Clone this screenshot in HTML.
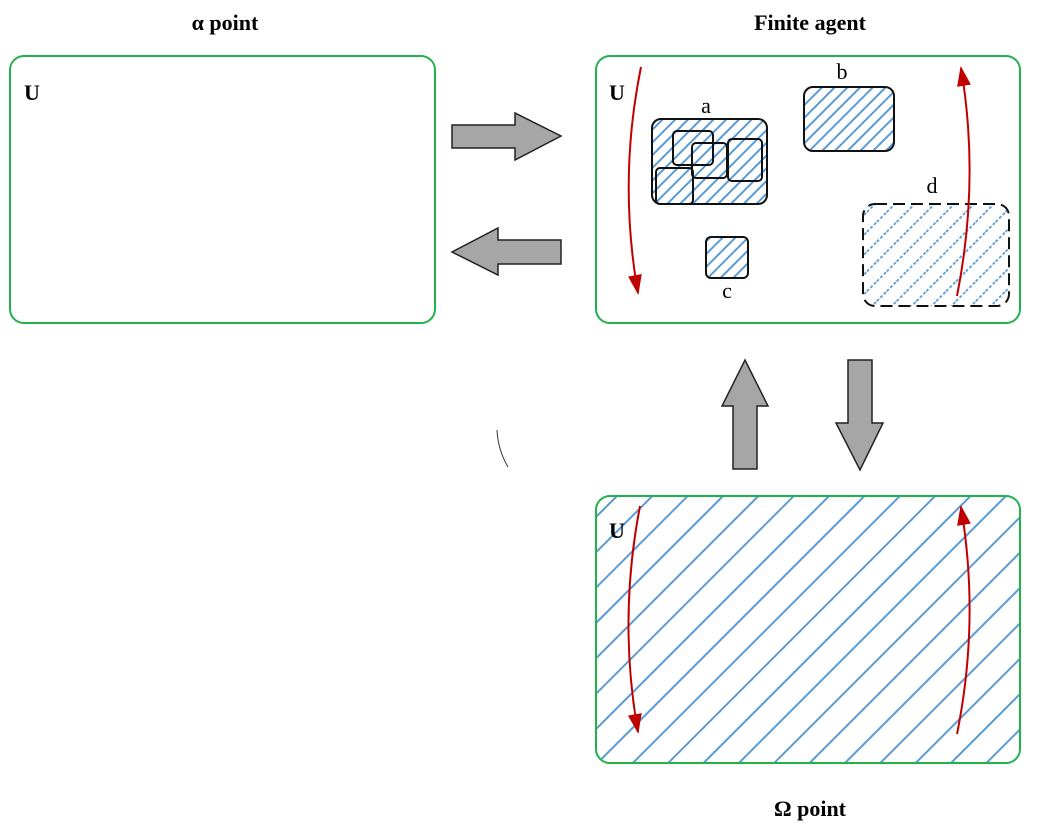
<!DOCTYPE html>
<html><head><meta charset="utf-8"><style>
html,body{margin:0;padding:0;background:#fff;}
body{width:1043px;height:826px;overflow:hidden;}
text{font-family:"Liberation Serif","DejaVu Serif",serif;}
</style></head><body>
<svg width="1043" height="826" viewBox="0 0 1043 826" xmlns="http://www.w3.org/2000/svg">
<defs>
<pattern id="h1" patternUnits="userSpaceOnUse" width="25" height="25" patternTransform="rotate(45)">
<line x1="12" y1="0" x2="12" y2="25" stroke="#5b9bd5" stroke-width="2"/></pattern>
<pattern id="h2" patternUnits="userSpaceOnUse" width="9" height="9" patternTransform="rotate(45)">
<line x1="4" y1="0" x2="4" y2="9" stroke="#5b9bd5" stroke-width="2"/></pattern>
<pattern id="h3" patternUnits="userSpaceOnUse" width="14" height="14" patternTransform="rotate(45)">
<line x1="7" y1="0" x2="7" y2="14" stroke="#5b9bd5" stroke-width="1.8" stroke-dasharray="3,2"/></pattern>
<marker id="ar" markerWidth="20" markerHeight="14" refX="18" refY="7" orient="auto" markerUnits="userSpaceOnUse" viewBox="0 0 20 14">
<path d="M0,0 L20,7 L0,14 Z" fill="#c00000"/></marker>
</defs>
<text x="225" y="30" font-size="22" font-weight="bold" text-anchor="middle">α  point</text>
<text x="810" y="30" font-size="22" font-weight="bold" text-anchor="middle">Finite agent</text>
<text x="810" y="816" font-size="22" font-weight="bold" text-anchor="middle">Ω  point</text>

<rect x="10" y="56" width="425" height="267" rx="14" fill="#fff" stroke="#22b24c" stroke-width="2"/>
<text x="24" y="100" font-size="22" font-weight="bold">U</text>

<rect x="596" y="56" width="424" height="267" rx="14" fill="#fff" stroke="#22b24c" stroke-width="2"/>
<text x="609" y="100" font-size="22" font-weight="bold">U</text>
<rect x="652" y="119" width="115" height="85" rx="9" fill="url(#h2)" stroke="#111" stroke-width="2"/>
<rect x="673" y="131" width="40" height="34" rx="4" fill="none" stroke="#111" stroke-width="2"/>
<rect x="692" y="143" width="35" height="35" rx="4" fill="none" stroke="#111" stroke-width="2"/>
<rect x="728" y="139" width="34" height="42" rx="4" fill="none" stroke="#111" stroke-width="2"/>
<rect x="656" y="168" width="37" height="36" rx="4" fill="none" stroke="#111" stroke-width="2"/>
<text x="706" y="113" font-size="22" text-anchor="middle">a</text>
<rect x="804" y="87" width="90" height="64" rx="9" fill="url(#h2)" stroke="#111" stroke-width="2"/>
<text x="842" y="79" font-size="22" text-anchor="middle">b</text>
<rect x="706" y="237" width="42" height="41" rx="5" fill="url(#h2)" stroke="#111" stroke-width="2"/>
<text x="727" y="298" font-size="22" text-anchor="middle">c</text>
<rect x="863" y="204" width="146" height="102" rx="12" fill="url(#h3)" stroke="#111" stroke-width="2" stroke-dasharray="12,6"/>
<text x="932" y="193" font-size="22" text-anchor="middle">d</text>
<path d="M641,67 Q618,180 638,293" fill="none" stroke="#c00000" stroke-width="2" marker-end="url(#ar)"/>
<path d="M957,296 Q980,180 961,68" fill="none" stroke="#c00000" stroke-width="2" marker-end="url(#ar)"/>

<rect x="596" y="496" width="424" height="267" rx="14" fill="url(#h1)" stroke="#22b24c" stroke-width="2"/>
<text x="609" y="538" font-size="22" font-weight="bold">U</text>
<path d="M640,506 Q618,620 638,732" fill="none" stroke="#c00000" stroke-width="2" marker-end="url(#ar)"/>
<path d="M957,734 Q980,620 961,507" fill="none" stroke="#c00000" stroke-width="2" marker-end="url(#ar)"/>

<g fill="#a6a6a6" stroke="#222" stroke-width="1.5">
<polygon points="452,125 515,125 515,113 561,136 515,160 515,148 452,148"/>
<polygon points="561,240 498,240 498,228 452,252 498,275 498,264 561,264"/>
<polygon points="733,469 733,406 722,406 745,360 768,406 757,406 757,469"/>
<polygon points="848,360 872,360 872,423 883,423 860,470 836,423 848,423"/>
</g>
<path d="M497,430 Q498,450 508,467" fill="none" stroke="#333" stroke-width="1"/>
</svg>
</body></html>
